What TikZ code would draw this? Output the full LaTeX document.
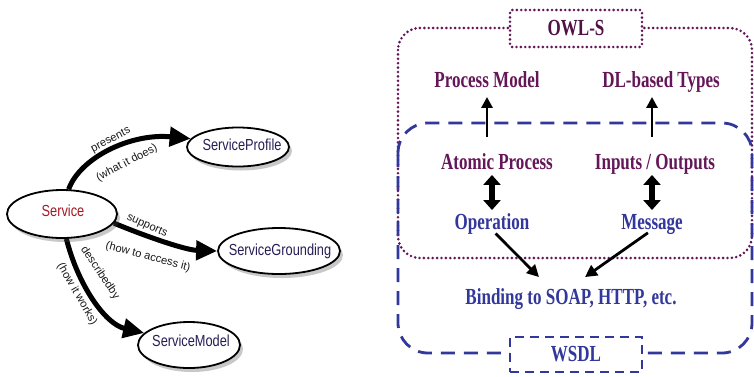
\documentclass[tikz,border=0pt]{standalone}
\usepackage{fontspec}
\newfontfamily\srf{Liberation Serif}[FakeStretch=0.74]
\newfontfamily\sns{Liberation Sans}[FakeStretch=0.8]
\newfontfamily\snsw{Liberation Sans}
\usetikzlibrary{arrows.meta,shapes.geometric,shadows}
\pgfdeclarelayer{bg}
\pgfsetlayers{bg,main}
\definecolor{owlpurple}{RGB}{100,22,88}
\definecolor{wsdlblue}{RGB}{50,55,155}
\definecolor{svcred}{RGB}{165,25,35}
\definecolor{navy}{RGB}{40,30,85}
\begin{document}
\begin{tikzpicture}[x=1pt,y=-1pt,
  ell/.style={ellipse, draw=black, line width=1.8pt, fill=white, inner sep=0pt,
    drop shadow={shadow xshift=3pt, shadow yshift=-4pt, opacity=0.3, fill=black!70}},
  ntxt/.style={font=\sns\fontsize{16}{18}\selectfont, text=navy, inner sep=0pt},
  bigarrow/.style={line width=5pt, -{Triangle[length=21pt,width=19pt]}},
  lbl/.style={font=\snsw\fontsize{11.2}{13}\selectfont, inner sep=0pt, text=black!90},
  rtxt/.style={font=\srf\bfseries\fontsize{23}{26}\selectfont, inner sep=0pt, text height=15.5pt, text depth=0pt},
  owldot/.style={draw=owlpurple, line width=2.9pt, dash pattern=on 0pt off 4.4pt, line cap=round},
  wsdldash/.style={draw=wsdlblue, line width=2.8pt, dash pattern=on 14pt off 9pt},
  uparr/.style={line width=2.8pt, -{Triangle[length=11pt,width=11pt]}},
  dblarr/.style={line width=6pt, {Triangle[length=10pt,width=17pt]}-{Triangle[length=10pt,width=17pt]}},
  diagarr/.style={line width=2.8pt, -{Triangle[length=12pt,width=12pt]}}
]
\useasboundingbox (0,0) rectangle (754,376);
\begin{pgfonlayer}{bg}
\fill[white] (0,0) rectangle (754,376);
\end{pgfonlayer}

% ---------- left: OWL-S service ontology ----------
\node[ell, minimum width=110pt, minimum height=48pt] (service) at (62,214) {};
\node[ntxt, text=svcred] (servicet) at (63,211) {Service};
\node[ell, minimum width=102pt, minimum height=39pt] (profile) at (238,147) {};
\node[ntxt] (profilet) at (242,145) {ServiceProfile};
\node[ell, minimum width=122pt, minimum height=46pt] (grounding) at (279,251) {};
\node[ntxt] (groundingt) at (280,251) {ServiceGrounding};
\node[ell, minimum width=102pt, minimum height=46pt] (model) at (189,345) {};
\node[ntxt] (modelt) at (191,341) {ServiceModel};

\begin{pgfonlayer}{bg}
\draw[bigarrow] (service.75) .. controls (80,158) and (130,133) .. (profile.170);
\draw[bigarrow] (service.-10) .. controls (145,236) and (185,250) .. (grounding.180);
\draw[bigarrow] (service.-80) .. controls (78,285) and (105,324) .. (model.165);
\end{pgfonlayer}

\node[lbl, rotate=28] (l1) at (111,140) {presents};
\node[lbl, rotate=28] (l2) at (127,163) {(what it does)};
\node[lbl, rotate=-24] (l3) at (147,226) {supports};
\node[lbl, rotate=-15] (l4) at (148,257) {(how to access it)};
\node[lbl, rotate=-56] (l5) at (100,273) {describedby};
\node[lbl, rotate=-60] (l6) at (77,294) {(how it works)};

% ---------- right: OWL-S / WSDL ----------
\draw[owldot, rounded corners=22pt] (398,28) rectangle (752,258);
\draw[wsdldash, rounded corners=30pt] (398,123) rectangle (752,353);
\node[owldot, fill=white, rounded corners=2pt, minimum width=132pt, minimum height=37pt,
      font=\srf\bfseries\fontsize{23}{26}\selectfont, text=owlpurple!80!black, inner sep=0pt] (owl) at (576,28.5) {OWL-S};
\node[wsdldash, dash pattern=on 9pt off 6pt, fill=white, minimum width=132pt, minimum height=35pt,
      font=\srf\bfseries\fontsize{23}{26}\selectfont, text=wsdlblue, inner sep=0pt] (wsdl) at (576,354.5) {WSDL};

\node[rtxt, text=owlpurple] (pm) at (487,80) {Process Model};
\node[rtxt, text=owlpurple] (dl) at (661,80) {DL-based Types};
\node[rtxt, text=owlpurple] (ap) at (497,162) {Atomic Process};
\node[rtxt, text=owlpurple] (io) at (655,162) {Inputs / Outputs};
\node[rtxt, text=wsdlblue] (op) at (492,222) {Operation};
\node[rtxt, text=wsdlblue] (msg) at (652,222) {Message};
\node[rtxt, text=wsdlblue] (bind) at (571,297) {Binding to SOAP, HTTP, etc.};

\draw[uparr, shorten <=17pt, shorten >=9pt] (pm.south |- ap.north) -- (pm.south);
\draw[uparr, shorten <=17pt, shorten >=9pt] (msg.north |- io.north) -- (msg.north |- dl.south);
\draw[dblarr, shorten <=5pt, shorten >=4pt] (op.north |- ap.south) -- (op.north);
\draw[dblarr, shorten <=5pt, shorten >=4pt] (msg.north |- io.south) -- (msg.north);
\draw[diagarr, shorten <=5pt] (op.south) -- ([xshift=-32pt,yshift=12pt]bind.north);
\draw[diagarr, shorten <=5pt] (msg.south) -- ([xshift=14pt,yshift=12pt]bind.north);
\end{tikzpicture}
\end{document}
